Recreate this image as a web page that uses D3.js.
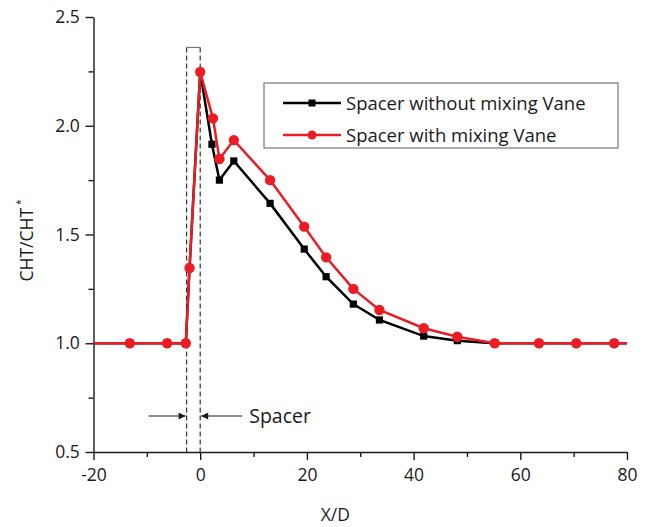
<!DOCTYPE html>
<html>
<head>
<meta charset="utf-8">
<script src="https://cdn.jsdelivr.net/npm/d3@7"></script>
<style>
  body { margin: 0; background: #fff; }
  text { font-family: "Open Sans", sans-serif; fill: #1a1a1a; }
</style>
</head>
<body>
<svg id="chart"></svg>
<script>
const WIDTH = 649;
const HEIGHT = 527;

const LEFT = 93.5;
const RIGHT = 627;
const TOP = 17;
const BOTTOM = 452;

// data
const xNoVane = [-13.2, -6.2, -2.7, -2.0, 0, 2.2, 3.6, 6.3, 13.1, 19.5, 23.6, 28.7, 33.6, 41.9, 48.2, 55.2, 63.5, 70.5, 77.6];
const yNoVane = [1.0, 1.0, 1.0, 1.346, 2.247, 1.915, 1.75, 1.838, 1.643, 1.433, 1.306, 1.18, 1.107, 1.033, 1.012, 1.0, 1.0, 1.0, 1.0];

const xVane = [-13.2, -6.2, -2.7, -2.0, 0, 2.4, 3.6, 6.3, 13.1, 19.5, 23.6, 28.7, 33.6, 41.9, 48.2, 55.2, 63.5, 70.5, 77.6];
const yVane = [1.0, 1.0, 1.0, 1.346, 2.247, 2.034, 1.847, 1.934, 1.75, 1.536, 1.395, 1.25, 1.153, 1.069, 1.03, 1.0, 1.0, 1.0, 1.0];

// the lines run on to the edges of the axis at the reference level
const baseLevel = 1.0;

const xTicks = [-20, 0, 20, 40, 60, 80];
const xMinorTicks = [-10, 10, 30, 50, 70];
const yTicks = [0.5, 1.0, 1.5, 2.0, 2.5];
const yMinorTicks = [0.75, 1.25, 1.75, 2.25];

const spacerStart = -2.55;
const spacerEnd = 0;
const spacerTop = 2.24 + 0.12; // top of the dashed box

const seriesNames = ["Spacer without mixing Vane", "Spacer with mixing Vane"];
const RED = "#ec1c24";

const svg = d3.select("#chart").attr("width", WIDTH).attr("height", HEIGHT);

const x = d3.scaleLinear().domain([-20, 80]).range([LEFT, RIGHT]);
const y = d3.scaleLinear().domain([0.5, 2.5]).range([BOTTOM, TOP]);

// axes
const xAxis = svg.append("g").attr("transform", `translate(0,${BOTTOM})`)
    .call(d3.axisBottom(x).tickValues(xTicks).tickSize(8).tickSizeOuter(0).tickFormat(d => String(d)));
svg.append("g").attr("transform", `translate(0,${BOTTOM})`)
    .call(d3.axisBottom(x).tickValues(xMinorTicks).tickSize(5).tickSizeOuter(0).tickFormat(""))
    .select(".domain").remove();

const yAxis = svg.append("g").attr("transform", `translate(${LEFT},0)`)
    .call(d3.axisLeft(y).tickValues(yTicks).tickSize(8).tickSizeOuter(0).tickFormat(d => d.toFixed(1)));
svg.append("g").attr("transform", `translate(${LEFT},0)`)
    .call(d3.axisLeft(y).tickValues(yMinorTicks).tickSize(5).tickSizeOuter(0).tickFormat(""))
    .select(".domain").remove();

svg.selectAll(".domain, .tick line").attr("stroke", "#1a1a1a").attr("stroke-width", 1.4);
xAxis.selectAll("text").attr("font-size", 17.5).attr("dy", "1.05em").attr("font-family", "Open Sans");
yAxis.selectAll("text").attr("font-size", 17.5).attr("dx", "-0.15em").attr("font-family", "Open Sans");

svg.append("text")
    .attr("x", (LEFT + RIGHT) / 2 - 25)
    .attr("y", 521)
    .attr("text-anchor", "middle")
    .attr("font-size", 17.5)
    .text("X/D");

const yLabel = svg.append("text")
    .attr("transform", `translate(33,${(TOP + BOTTOM) / 2 + 6}) rotate(-90)`)
    .attr("text-anchor", "middle")
    .attr("font-size", 17.5);
yLabel.append("tspan").text("CHT/CHT");
yLabel.append("tspan").attr("font-size", 10).attr("dx", 3).attr("dy", -9).text("*");

// spacer dashed box
[spacerStart, spacerEnd].forEach(v => {
    svg.append("line")
        .attr("x1", x(v)).attr("x2", x(v))
        .attr("y1", y(spacerTop)).attr("y2", BOTTOM)
        .attr("stroke", "#333")
        .attr("stroke-width", 1.2)
        .attr("stroke-dasharray", "5,3");
});
svg.append("line")
    .attr("x1", x(spacerStart)).attr("x2", x(spacerEnd))
    .attr("y1", y(spacerTop)).attr("y2", y(spacerTop))
    .attr("stroke", "#777")
    .attr("stroke-width", 1.2);

// arrows + label
const defs = svg.append("defs");
defs.append("marker")
    .attr("id", "arrow")
    .attr("viewBox", "0 0 10 10")
    .attr("refX", 10).attr("refY", 5)
    .attr("markerWidth", 10).attr("markerHeight", 7)
    .attr("markerUnits", "userSpaceOnUse")
    .attr("orient", "auto")
    .append("path").attr("d", "M0,0L10,5L0,10Z").attr("fill", "#1a1a1a");

const arrowY = 416;
svg.append("line")
    .attr("x1", x(spacerStart) - 38).attr("x2", x(spacerStart) - 1)
    .attr("y1", arrowY).attr("y2", arrowY)
    .attr("stroke", "#1a1a1a").attr("stroke-width", 1.2)
    .attr("marker-end", "url(#arrow)");
svg.append("line")
    .attr("x1", x(spacerEnd) + 42).attr("x2", x(spacerEnd) + 1)
    .attr("y1", arrowY).attr("y2", arrowY)
    .attr("stroke", "#1a1a1a").attr("stroke-width", 1.2)
    .attr("marker-end", "url(#arrow)");
svg.append("text")
    .attr("x", x(spacerEnd) + 49)
    .attr("y", arrowY + 7)
    .attr("font-size", 19.5)
    .text("Spacer");

// series
const noVane = xNoVane.map((d, i) => ({ x: d, y: yNoVane[i] }));
const vane = xVane.map((d, i) => ({ x: d, y: yVane[i] }));

const line = d3.line().x(d => x(d.x)).y(d => y(d.y));
const withEnds = pts => [{ x: -20, y: baseLevel }, ...pts, { x: 80, y: baseLevel }];

svg.append("path")
    .datum(withEnds(noVane))
    .attr("fill", "none")
    .attr("stroke", "#000")
    .attr("stroke-width", 2.5)
    .attr("d", line);

svg.selectAll(".sq")
    .data(noVane)
    .join("rect")
    .attr("class", "sq")
    .attr("x", d => x(d.x) - 3.6)
    .attr("y", d => y(d.y) - 3.6)
    .attr("width", 7.2)
    .attr("height", 7.2)
    .attr("fill", "#000");

svg.append("path")
    .datum(withEnds(vane))
    .attr("fill", "none")
    .attr("stroke", RED)
    .attr("stroke-width", 2.5)
    .attr("d", line);

svg.selectAll(".dot")
    .data(vane)
    .join("circle")
    .attr("class", "dot")
    .attr("cx", d => x(d.x))
    .attr("cy", d => y(d.y))
    .attr("r", 5.2)
    .attr("fill", RED);

// legend
const legend = svg.append("g").attr("transform", "translate(264,83)");
legend.append("rect")
    .attr("width", 354)
    .attr("height", 65)
    .attr("fill", "#fff")
    .attr("stroke", "#777")
    .attr("stroke-width", 1.2);

seriesNames.forEach((name, i) => {
    const row = legend.append("g").attr("transform", `translate(0,${20 + i * 32})`);
    const color = i === 0 ? "#000" : RED;
    row.append("line")
        .attr("x1", 19).attr("x2", 77)
        .attr("stroke", color).attr("stroke-width", 2.5);
    if (i === 0) {
        row.append("rect").attr("x", 44.5).attr("y", -3.5).attr("width", 7).attr("height", 7).attr("fill", color);
    } else {
        row.append("circle").attr("cx", 48).attr("r", 4.5).attr("fill", color);
    }
    row.append("text")
        .attr("x", 82)
        .attr("y", 6.5)
        .attr("font-size", 18.5)
        .text(name);
});
</script>
</body>
</html>
